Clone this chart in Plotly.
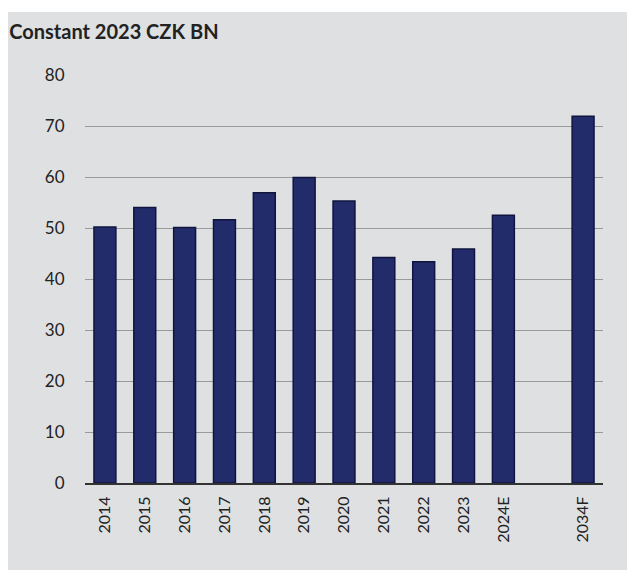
import plotly.graph_objects as go

# ---------------------------------------------------------------------------
# Data
# ---------------------------------------------------------------------------
years = ["2014", "2015", "2016", "2017", "2018", "2019", "2020",
         "2021", "2022", "2023", "2024E", " ", "2034F"]
values = [50.2, 54.0, 50.1, 51.6, 56.9, 59.9, 55.3,
          44.2, 43.4, 45.9, 52.5, None, 71.9]
y_ticks = [0, 10, 20, 30, 40, 50, 60, 70, 80]

_BAR_CLR = "#222c6b"
_EDGE_CLR = "#10143f"
_BG_CLR = "#dfe0e2"
_GRID_CLR = "#9a9a9a"
_TXT_CLR = "#222222"
_FONT = "Lato, Open Sans, sans-serif"

# page body has an 8px margin, so the figure is sized to fit what is left
W, H = 627, 562
M_L, M_R, M_T, M_B = 77, 32, 67, 87
PLOT_H = H - M_T - M_B

fig = go.Figure()
fig.add_trace(
    go.Bar(
        x=years,
        y=values,
        marker=dict(color=_BAR_CLR, line=dict(color=_EDGE_CLR, width=1.5)),
        showlegend=False,
        hovertemplate="%{x}: %{y:.1f}<extra></extra>",
    )
)

# white strip above the grey panel
fig.add_shape(type="rect", xref="paper", yref="paper",
              x0=-0.3, x1=1.3, y0=1.0 + (M_T - 4) / PLOT_H, y1=1.4,
              fillcolor="white", line_width=0, layer="below")

fig.update_layout(
    width=W,
    height=H,
    paper_bgcolor=_BG_CLR,
    plot_bgcolor=_BG_CLR,
    margin=dict(l=M_L, r=M_R, t=M_T, b=M_B),
    bargap=0.45,
    font=dict(family=_FONT, size=16, color=_TXT_CLR),
    title=dict(
        text="<b>Constant 2023 CZK BN</b>",
        x=0.002, xref="container", xanchor="left",
        y=1 - 24 / H, yref="container", yanchor="middle",
        font=dict(family=_FONT, size=20, color=_TXT_CLR),
    ),
)
fig.update_xaxes(
    type="category",
    tickangle=-90,
    ticks="outside", ticklen=5, tickcolor="rgba(0,0,0,0)",
    showgrid=False,
    showline=True, linecolor="#333333", linewidth=2,
    tickfont=dict(size=16),
)
fig.update_yaxes(
    range=[0, 80],
    tickvals=y_ticks,
    ticks="outside", ticklen=16, tickcolor="rgba(0,0,0,0)",
    showgrid=True, gridcolor=_GRID_CLR, gridwidth=1,
    zeroline=False,
    showline=False,
    tickfont=dict(size=17),
)

fig.write_html("out.html")
